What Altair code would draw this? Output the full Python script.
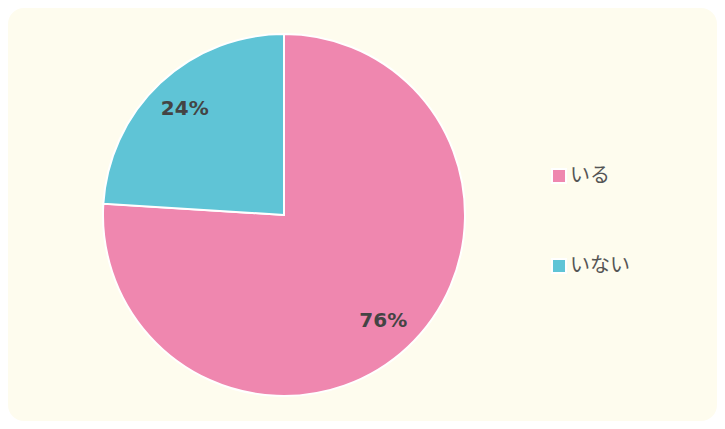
import altair as alt
import pandas as pd

categories = ["いる", "いない"]
values = [76, 24]
labels = ["76%", "24%"]
colors = ["#EF87AF", "#5FC4D6"]

df = pd.DataFrame({"cat": categories, "val": values, "label": labels, "order": [0, 1]})

W, H = 709, 413
CX, CY, R = 276, 207, 181

bg = alt.Chart(pd.DataFrame({"a": [0]})).mark_rect(
    fill="#FEFCEE", cornerRadius=16
).encode(x=alt.value(0), x2=alt.value(W), y=alt.value(0), y2=alt.value(H))

base = alt.Chart(df).encode(
    theta=alt.Theta("val:Q", stack=True),
    order=alt.Order("order:Q"),
)

pie = base.mark_arc(radius=R, stroke="white", strokeWidth=2).encode(
    x=alt.value(CX), y=alt.value(CY),
    color=alt.Color(
        "cat:N",
        scale=alt.Scale(domain=categories, range=colors),
        sort=categories,
        legend=alt.Legend(
            title=None, orient="none", legendX=541, legendY=158,
            symbolType="square", symbolSize=196, symbolStrokeColor="white",
            symbolStrokeWidth=2, labelFontSize=20, labelColor="#555555",
            labelFont="Noto Sans CJK JP", rowPadding=68, labelOffset=1,
        ),
    ),
)

text = base.mark_text(
    radius=145, font="DejaVu Sans", fontWeight="bold", fontSize=20, color="#444444"
).encode(x=alt.value(CX), y=alt.value(CY), text="label:N")

chart = alt.layer(bg, pie, text).properties(
    width=W, height=H,
    autosize=alt.AutoSizeParams(type="fit", contains="padding"),
    padding=0,
).configure(background="white").configure_view(stroke=None)

chart.save("out.html", embed_options={"renderer": "svg", "actions": False})
